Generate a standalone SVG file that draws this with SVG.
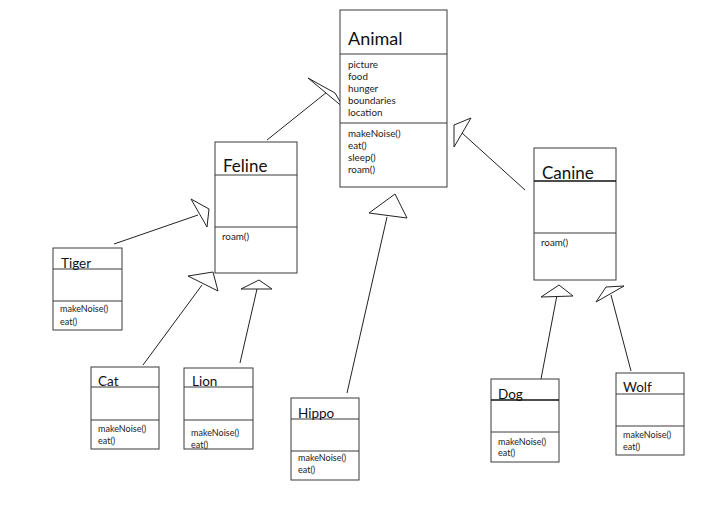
<svg xmlns="http://www.w3.org/2000/svg" width="715" height="510" viewBox="0 0 715 510">
<style>
.box{fill:#fff;stroke:#3a3a3a;stroke-width:1}
.div{stroke:#3a3a3a;stroke-width:1}
.divb{stroke:#111;stroke-width:1.6}
.big{font-family:Lato,"Open Sans",sans-serif;font-size:17px;fill:#111}
.mid{font-family:Lato,"Open Sans",sans-serif;font-size:13.5px;fill:#111}
.sm{font-family:Lato,"Open Sans",sans-serif;font-size:9.8px;fill:#222}
.xs{font-family:Lato,"Open Sans",sans-serif;font-size:9px;fill:#222}
.ln{stroke:#222;stroke-width:1;fill:none}
.tri{stroke:#222;stroke-width:1;fill:#fff;stroke-linejoin:miter}
</style>
<rect width="715" height="510" fill="#fff"/>
<g id="connectors">
<line class="ln" x1="267" y1="140" x2="327" y2="92"/>
<polygon class="tri" points="308,78 335,93 344,108"/>
<line class="ln" x1="525" y1="190" x2="462" y2="133"/>
<polygon class="tri" points="454,147 454,125 471,118"/>
<line class="ln" x1="114" y1="244" x2="198" y2="215"/>
<polygon class="tri" points="191,199 209,209 207,227"/>
<line class="ln" x1="143" y1="365" x2="202" y2="285"/>
<polygon class="tri" points="188,276 213,272 218,291"/>
<line class="ln" x1="240" y1="363" x2="257" y2="289"/>
<polygon class="tri" points="241,289 259,280 272,289"/>
<line class="ln" x1="347" y1="393" x2="387" y2="217"/>
<polygon class="tri" points="369,213 395,194 407,218"/>
<line class="ln" x1="541" y1="379" x2="557" y2="295"/>
<polygon class="tri" points="541,297 559,285 573,296"/>
<line class="ln" x1="631" y1="371" x2="611" y2="295"/>
<polygon class="tri" points="596,302 606,287 624,286"/>
</g>
<g id="animal">
<rect class="box" x="340" y="10" width="107" height="177"/>
<line class="div" x1="340" y1="54" x2="447" y2="54"/>
<line class="div" x1="340" y1="123" x2="447" y2="123"/>
<text class="big" x="348" y="45" style="font-size:18px">Animal</text>
<text class="sm" x="348" y="68">picture</text>
<text class="sm" x="348" y="80">food</text>
<text class="sm" x="348" y="92">hunger</text>
<text class="sm" x="348" y="104">boundaries</text>
<text class="sm" x="348" y="116">location</text>
<text class="sm" x="348" y="137">makeNoise()</text>
<text class="sm" x="348" y="149">eat()</text>
<text class="sm" x="348" y="161">sleep()</text>
<text class="sm" x="348" y="173">roam()</text>
</g>
<g id="feline">
<rect class="box" x="215" y="142" width="82" height="131"/>
<line class="div" x1="215" y1="175" x2="297" y2="175"/>
<line class="div" x1="215" y1="227" x2="297" y2="227"/>
<text class="big" x="223" y="172">Feline</text>
<text class="sm" x="222" y="240">roam()</text>
</g>
<g id="canine">
<rect class="box" x="534" y="148" width="82" height="132"/>
<line class="divb" x1="534" y1="181" x2="616" y2="181"/>
<line class="div" x1="534" y1="233" x2="616" y2="233"/>
<text class="big" x="542" y="179">Canine</text>
<text class="sm" x="541" y="246">roam()</text>
</g>
<g id="tiger">
<rect class="box" x="53" y="248" width="69" height="82"/>
<line class="div" x1="53" y1="269" x2="122" y2="269"/>
<line class="div" x1="53" y1="301" x2="122" y2="301"/>
<text class="mid" x="61" y="268">Tiger</text>
<text class="xs" x="60" y="312">makeNoise()</text>
<text class="xs" x="60" y="325">eat()</text>
</g>
<g id="cat">
<rect class="box" x="91" y="367" width="68" height="82"/>
<line class="div" x1="91" y1="387" x2="159" y2="387"/>
<line class="div" x1="91" y1="420" x2="159" y2="420"/>
<text class="mid" x="98" y="386">Cat</text>
<text class="xs" x="98" y="432">makeNoise()</text>
<text class="xs" x="98" y="444">eat()</text>
</g>
<g id="lion">
<rect class="box" x="184" y="368" width="69" height="81"/>
<line class="div" x1="184" y1="387" x2="253" y2="387"/>
<line class="div" x1="184" y1="420" x2="253" y2="420"/>
<text class="mid" x="192" y="386">Lion</text>
<text class="xs" x="191" y="436">makeNoise()</text>
<text class="xs" x="191" y="448">eat()</text>
</g>
<g id="hippo">
<rect class="box" x="291" y="398" width="68" height="82"/>
<line class="div" x1="291" y1="419" x2="359" y2="419"/>
<line class="div" x1="291" y1="451" x2="359" y2="451"/>
<text class="mid" x="298" y="418">Hippo</text>
<text class="xs" x="298" y="461">makeNoise()</text>
<text class="xs" x="298" y="473">eat()</text>
</g>
<g id="dog">
<rect class="box" x="491" y="379" width="68" height="83"/>
<line class="divb" x1="491" y1="400" x2="559" y2="400"/>
<line class="div" x1="491" y1="432" x2="559" y2="432"/>
<text class="mid" x="498" y="399">Dog</text>
<text class="xs" x="498" y="445">makeNoise()</text>
<text class="xs" x="498" y="456">eat()</text>
</g>
<g id="wolf">
<rect class="box" x="616" y="373" width="68" height="82"/>
<line class="div" x1="616" y1="394" x2="684" y2="394"/>
<line class="div" x1="616" y1="426" x2="684" y2="426"/>
<text class="mid" x="623" y="392">Wolf</text>
<text class="xs" x="623" y="438">makeNoise()</text>
<text class="xs" x="623" y="450">eat()</text>
</g>
</svg>
